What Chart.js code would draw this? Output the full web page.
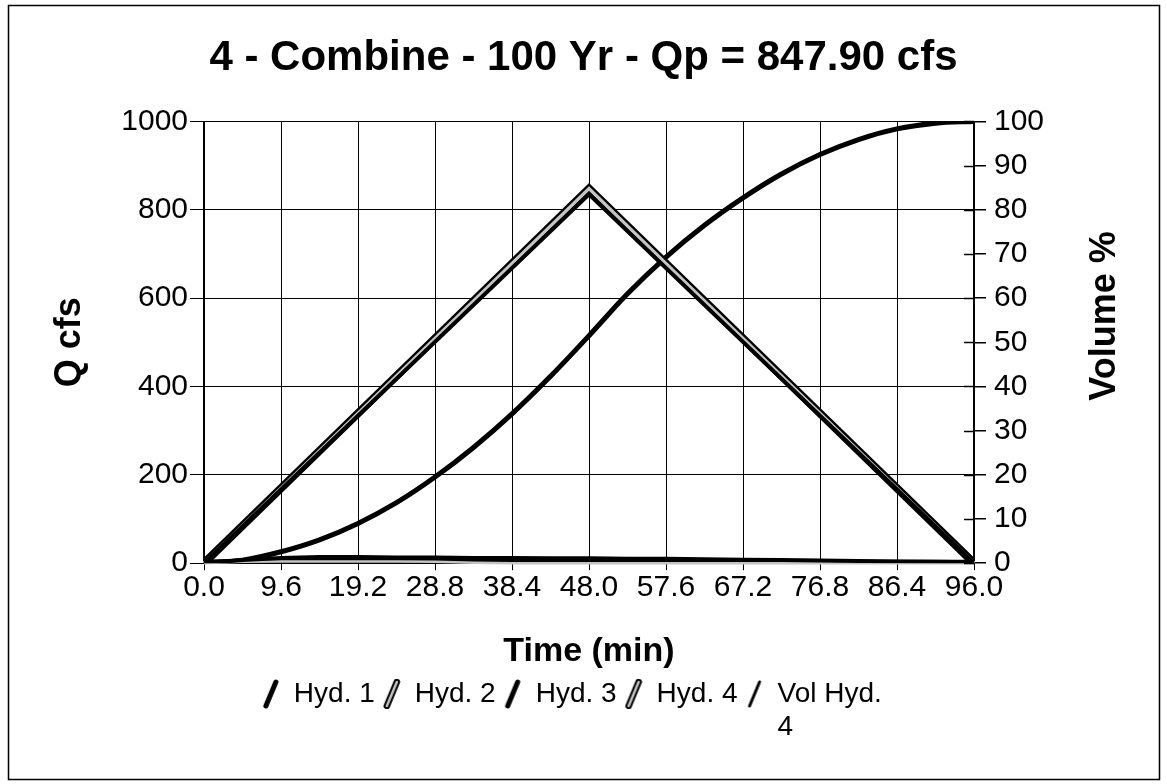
<!DOCTYPE html>
<html lang="en">
  <head>
    <title>4 - Combine - 100 Yr</title>
    <style>
      html, body { margin: 0; padding: 0; background: #fff; }
      #wrap { width: 1167px; height: 784px; }
    </style>
  </head>
  <body>
    <div id="wrap">
      <canvas id="myChart" width="1167" height="784"></canvas>
    </div>

    <script src="https://cdn.jsdelivr.net/npm/chart.js"></script>

    <script>
      // values
      var xTicks = [0, 9.6, 19.2, 28.8, 38.4, 48.0, 57.6, 67.2, 76.8, 86.4, 96.0];
      var stepTimes = [0, 4.8, 9.6, 14.4, 19.2, 24.0, 28.8, 33.6, 38.4, 43.2, 48.0,
                       52.8, 57.6, 62.4, 67.2, 72.0, 76.8, 81.6, 86.4, 91.2, 96.0];
      var peakTimes = [0, 48.0, 96.0];
      var hyd1 = [0, 7, 12, 14, 14, 13, 13, 12, 12, 11, 11, 10, 10, 9, 8, 7, 6, 5, 4, 3, 2];
      var hyd2 = [0, 3, 4, 4, 4, 4, 3, 1, 0, 0, 0, 0, 0, 0, 0, 0, 0, 0, 0, 0, 0];
      var hyd3 = [0, 835, 0];
      var hyd4 = [0, 847.9, 0];
      var volHyd4 = [0, 0.7, 2.6, 5.3, 9.0, 13.7, 19.5, 26.2, 33.8, 42.3, 51.5,
                     61.0, 69.3, 76.5, 82.7, 88.1, 92.5, 95.9, 98.3, 99.6, 100];

      function pts(xs, ys) {
        return xs.map(function (x, i) { return { x: x, y: ys[i] }; });
      }

      // little slanted strokes used as legend symbols
      function slash(hollow, width) {
        var c = document.createElement("canvas");
        c.width = 18;
        c.height = 30;
        var g = c.getContext("2d");
        g.lineCap = "round";
        g.beginPath();
        g.moveTo(4, 27);
        g.lineTo(14, 3);
        g.strokeStyle = "#000";
        g.lineWidth = width;
        g.stroke();
        if (hollow) {
          g.strokeStyle = "#c4c4c4";
          g.lineWidth = width - 4;
          g.stroke();
        }
        return c;
      }

      var FONT = "'Liberation Sans', Arial, Helvetica, sans-serif";
      Chart.defaults.font.family = FONT;
      Chart.defaults.color = "#000";

      // frame, hollow lines, inner ticks of right axis and its title
      var extras = {
        id: "extras",
        beforeLayout: function (chart) {
          // room under the legend row for the wrapped "4"
          var lg = chart.legend;
          if (lg && !lg._tall) {
            var fit = lg.fit;
            lg.fit = function () {
              fit.call(this);
              this.height += 40;
            };
            lg._tall = true;
          }
        },
        afterDatasetDraw: function (chart, args) {
          var ds = chart.data.datasets[args.index];
          if (!ds.hollow) return;
          var line = args.meta.dataset;
          var o = line.options;
          var c = o.borderColor, w = o.borderWidth;
          o.borderColor = "#c4c4c4";
          o.borderWidth = w - 4.5;
          line.draw(chart.ctx, chart.chartArea);
          o.borderColor = c;
          o.borderWidth = w;
        },
        afterDraw: function (chart) {
          var ctx = chart.ctx;
          var y2 = chart.scales.y2;
          var a = chart.chartArea;
          ctx.save();
          ctx.strokeStyle = "#000";
          ctx.lineWidth = 1.5;
          y2.ticks.forEach(function (t) {
            var py = Math.round(y2.getPixelForValue(t.value)) + 0.5;
            ctx.beginPath();
            ctx.moveTo(a.right - 10, py);
            ctx.lineTo(a.right, py);
            ctx.stroke();
          });
          ctx.strokeRect(8.5, 5.5, chart.width - 16, chart.height - 10);
          ctx.translate(1105, 316);
          ctx.rotate(-Math.PI / 2);
          ctx.font = "bold 36px " + FONT;
          ctx.fillStyle = "#000";
          ctx.textAlign = "center";
          ctx.textBaseline = "middle";
          ctx.fillText("Volume %", 0, 0);
          ctx.restore();
        }
      };

      const ctx = document.getElementById("myChart");
      new Chart(ctx, {
        type: "line",
        data: {
          datasets: [
            {
              label: "Hyd. 1",
              data: pts(stepTimes, hyd1),
              borderColor: "#000",
              borderWidth: 4,
              pointStyle: slash(false, 5),
              yAxisID: "y",
            },
            {
              label: "Hyd. 2",
              data: pts(stepTimes, hyd2),
              borderColor: "#000",
              borderWidth: 7,
              hollow: true,
              pointStyle: slash(true, 6.5),
              yAxisID: "y",
            },
            {
              label: "Hyd. 3",
              data: pts(peakTimes, hyd3),
              borderColor: "#000",
              borderWidth: 4,
              pointStyle: slash(false, 5),
              yAxisID: "y",
            },
            {
              label: "Hyd. 4",
              data: pts(peakTimes, hyd4),
              borderColor: "#000",
              borderWidth: 8,
              hollow: true,
              pointStyle: slash(true, 6.5),
              yAxisID: "y",
            },
            {
              label: "Vol Hyd. 4",
              data: pts(stepTimes, volHyd4),
              borderColor: "#000",
              borderWidth: 5,
              cubicInterpolationMode: "monotone",
              pointStyle: slash(false, 3),
              yAxisID: "y2",
            },
          ],
        },
        options: {
          responsive: false,
          animation: false,
          events: [],
          elements: {
            point: { radius: 0, hoverRadius: 0 },
            line: { borderJoinStyle: "miter", borderCapStyle: "butt" },
          },
          layout: { padding: { left: 20, right: 20, top: 10, bottom: 26 } },
          plugins: {
            tooltip: { enabled: false },
            title: {
              display: true,
              text: "4 - Combine - 100 Yr - Qp = 847.90 cfs",
              font: { size: 42, weight: "bold" },
              color: "#000",
              padding: { top: 23, bottom: 38 },
            },
            legend: {
              position: "bottom",
              labels: {
                usePointStyle: true,
                boxWidth: 18,
                boxHeight: 30,
                padding: 8,
                font: { size: 28 },
                color: "#000",
                generateLabels: function (chart) {
                  var items = Chart.defaults.plugins.legend.labels.generateLabels(chart);
                  // the last label wraps onto a second line, as in the picture
                  items.forEach(function (it) {
                    if (it.text === "Vol Hyd. 4") it.text = ["Vol Hyd.", "4"];
                  });
                  return items;
                },
              },
            },
          },
          scales: {
            x: {
              type: "linear",
              min: 0,
              max: 96,
              afterBuildTicks: function (scale) {
                scale.ticks = xTicks.map(function (v) { return { value: v }; });
              },
              ticks: {
                autoSkip: false,
                maxRotation: 0,
                padding: 0,
                font: { size: 30 },
                color: "#000",
                callback: function (v) { return Number(v).toFixed(1); },
              },
              grid: { color: "#000", lineWidth: 1, tickLength: 7 },
              border: { color: "#000", width: 1.5 },
              title: {
                display: true,
                text: "Time (min)",
                font: { size: 34, weight: "bold" },
                color: "#000",
                padding: { top: 25, bottom: 0 },
              },
            },
            y: {
              position: "left",
              min: 0,
              max: 1000,
              ticks: {
                stepSize: 200,
                padding: 2,
                font: { size: 30 },
                color: "#000",
                callback: function (v) { return String(v); },
              },
              grid: { color: "#000", lineWidth: 1, tickLength: 14 },
              border: { color: "#000", width: 1.5 },
              afterFit: function (scale) { scale.width = 184; },
              title: {
                display: true,
                text: "Q cfs",
                font: { size: 36, weight: "bold" },
                color: "#000",
                padding: { top: 28, bottom: 0 },
              },
            },
            y2: {
              position: "right",
              min: 0,
              max: 100,
              ticks: { stepSize: 10, padding: 8, font: { size: 30 }, color: "#000" },
              grid: { drawOnChartArea: false, color: "#000", lineWidth: 1.5, tickLength: 12 },
              border: { color: "#000", width: 1.5 },
              afterFit: function (scale) { scale.width = 173; },
            },
          },
        },
        plugins: [extras],
      });
    </script>
  </body>
</html>
